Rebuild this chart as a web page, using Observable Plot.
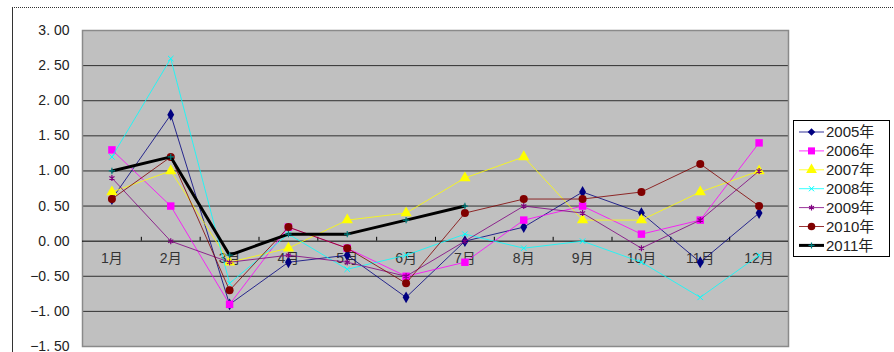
<!DOCTYPE html>
<html><head><meta charset="utf-8">
<script src="https://cdn.jsdelivr.net/npm/d3@7"></script>
<script src="https://cdn.jsdelivr.net/npm/@observablehq/plot@0.6"></script>
<style>
body{margin:0;background:#fff;}
#wrap{position:relative;width:894px;height:352px;overflow:hidden;}
#frame{position:absolute;left:12px;top:7px;width:882px;height:345px;border-top:1px dotted #333;border-left:1px solid #333;}
#legend{position:absolute;left:793px;top:120px;}
</style></head>
<body><div id="wrap"><div id="frame"></div><div id="chart"></div><div id="legend"></div></div>
<script>
const months = ["1月","2月","3月","4月","5月","6月","7月","8月","9月","10月","11月","12月"];
const years = ["2005年","2006年","2007年","2008年","2009年","2010年","2011年"];
const s2005 = [0.6,1.8,-0.9,-0.3,-0.2,-0.8,0.0,0.2,0.7,0.4,-0.3,0.4];
const s2006 = [1.3,0.5,-0.9,0.2,-0.1,-0.5,-0.3,0.3,0.5,0.1,0.3,1.4];
const s2007 = [0.7,1.0,-0.3,-0.1,0.3,0.4,0.9,1.2,0.3,0.3,0.7,1.0];
const s2008 = [1.2,2.6,-0.6,0.1,-0.4,-0.2,0.1,-0.1,0.0,-0.3,-0.8,-0.2];
const s2009 = [0.9,0.0,-0.3,-0.2,-0.3,-0.5,0.0,0.5,0.4,-0.1,0.3,1.0];
const s2010 = [0.6,1.2,-0.7,0.2,-0.1,-0.6,0.4,0.6,0.6,0.7,1.1,0.5];
const s2011 = [1.0,1.2,-0.2,0.1,0.1,0.3,0.5];
const yTicks = [-1.5,-1.0,-0.5,0.0,0.5,1.0,1.5,2.0,2.5,3.0];

const seriesValues = [s2005,s2006,s2007,s2008,s2009,s2010,s2011];
const styles = [
  {color:"#000080", symbol:"diamond", r:3.6, fill:"#000080", stroke:"none", sw:1, lw:1},
  {color:"#ff00ff", symbol:"square", r:4.2, fill:"#ff00ff", stroke:"none", sw:1, lw:1},
  {color:"#ffff00", symbol:"triangle", r:4.2, fill:"#ffff00", stroke:"none", sw:1, lw:1},
  {color:"#00ffff", symbol:"times", r:2.6, fill:"none", stroke:"#00ffff", sw:1, lw:1},
  {color:"#800080", symbol:"asterisk", r:2.8, fill:"none", stroke:"#800080", sw:1.2, lw:1},
  {color:"#800000", symbol:"circle", r:4, fill:"#800000", stroke:"none", sw:1, lw:1},
  {color:"#000000", symbol:"plus", r:2.2, fill:"none", stroke:"#008080", sw:1.2, lw:3}
];
const data = seriesValues.map((vals,i)=>vals.map((v,j)=>({m:j+1, v, year:years[i]})));
const monthRows = months.map((label,i)=>({m:i+1,label}));
const bounds = d3.range(1.5,12.5,1);
const font = "'Liberation Sans','Noto Sans CJK SC',sans-serif";

const marks = [
  Plot.frame({fill:"#c0c0c0", stroke:"none"}),
  Plot.ruleY(yTicks.filter(t=>t!==0 && t!==3 && t!==-1.5), {stroke:"#303030", strokeWidth:1}),
  Plot.frame({stroke:"#8a8a8a", strokeWidth:1.5}),
  Plot.ruleY([0], {stroke:"#000", strokeWidth:1}),
  Plot.ruleX(bounds, {y1:0, y2:0.055, stroke:"#000"}),
  Plot.axisY({ticks:yTicks, tickSize:0, tickPadding:13, tickFormat:d=>d.toFixed(2).replace(".",". ").replace("-","−"), fontSize:14, fill:"#222", label:null}),
  Plot.text(monthRows, {x:"m", y:()=>0, text:"label", dy:17, fontSize:14, fill:"#333"})
];
data.forEach((d,i)=>{
  const s = styles[i];
  marks.push(Plot.line(d, {x:"m", y:"v", stroke:s.color, strokeWidth:s.lw, strokeOpacity: i===6?1:0.8}));
  marks.push(Plot.dot(d, {x:"m", y:"v", symbol:()=>s.symbol, r:s.r, fill:s.fill, stroke:s.stroke, strokeWidth:s.sw}));
});

const chart = Plot.plot({
  width:894, height:352,
  marginLeft:82, marginRight:106, marginTop:30, marginBottom:6,
  style:{fontFamily:font, background:"transparent", overflow:"visible"},
  x:{domain:[0.5,12.5], axis:null},
  y:{domain:[-1.5,3], axis:null},
  symbol:{type:"identity"},
  marks
});
chart.style.position="absolute"; chart.style.left="0"; chart.style.top="0";
document.getElementById("chart").appendChild(chart);

// legend
const lw = 97, lh = 137;
const lsvg = d3.select("#legend").append("svg").attr("width",lw).attr("height",lh);
lsvg.append("rect").attr("x",0.5).attr("y",0.5).attr("width",lw-1).attr("height",lh-1).attr("fill","#fff").attr("stroke","#000");
const symMap = {diamond:d3.symbolDiamond2, square:d3.symbolSquare, triangle:d3.symbolTriangle, times:d3.symbolTimes, asterisk:d3.symbolAsterisk, circle:d3.symbolCircle, plus:d3.symbolPlus};
years.forEach((y,i)=>{
  const s = styles[i];
  const cy = 12 + i*18.9;
  const g = lsvg.append("g");
  g.append("line").attr("x1",6).attr("x2",31).attr("y1",cy).attr("y2",cy).attr("stroke",s.color).attr("stroke-width",s.lw).attr("stroke-opacity",i===6?1:0.8);
  g.append("path").attr("transform",`translate(18.5,${cy})`)
    .attr("d", d3.symbol(symMap[s.symbol], Math.PI*s.r*s.r*0.9)())
    .attr("fill",s.fill).attr("stroke",s.stroke).attr("stroke-width",s.sw);
  g.append("text").attr("x",33).attr("y",cy).attr("dy","0.36em").attr("font-family",font).attr("font-size",15).attr("fill","#222").text(y);
});
</script></body></html>
